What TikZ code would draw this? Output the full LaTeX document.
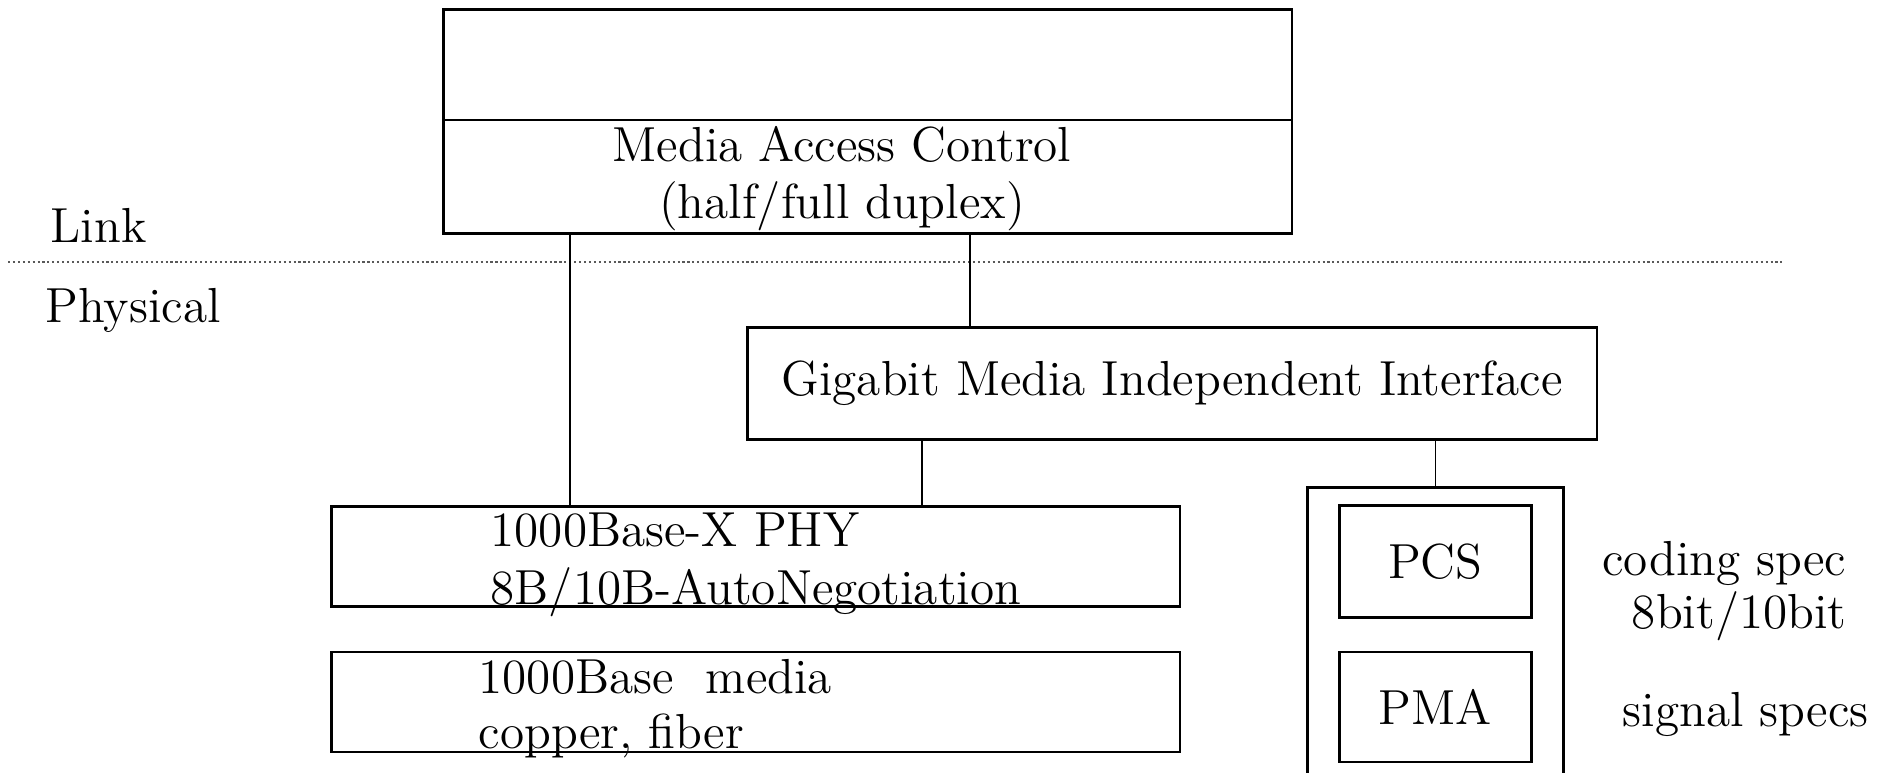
\documentclass[tikz,border=0pt]{standalone}
\usepackage{fontspec}
\usepackage{tikz}
\usetikzlibrary{positioning}
\tikzset{
  LAY/.style={% Style for layer boxes
      rectangle, line width=0.75pt,
      draw=black,
      inner sep=0pt,
      anchor=north west,
      align=center,
      font=\fontsize{14}{16.4}\selectfont,
  },
  TXT/.style={% Style for free text
      inner sep=0pt,
      font=\fontsize{14}{16.4}\selectfont,
  },
  LNK/.style={line width=0.5pt},% connectors between layers
  SEP/.style={% dotted line between link and physical
      line width=0.7pt, draw=black!65,
      dash pattern=on 0.6pt off 0.8pt,
  },
}

\begin{document}
\begin{tikzpicture}[x=0.01cm,y=-0.01cm]
    \useasboundingbox (0,0) rectangle (1885,772);
    % link layer
    \node[LAY, minimum width=8.48cm, minimum height=2.24cm] (mac) at (442,8) {};
    \draw[line width=0.75pt] (mac.west |- 0,120) -- (mac.east |- 0,120);
    \node[TXT, anchor=north, align=center, font=\fontsize{14}{16}\selectfont] (macT) at (842,126) {Media Access Control\\(half/full duplex)};
    \node[TXT, anchor=base west] (link) at (50,242) {Link};
    \node[TXT, anchor=base west] (phys) at (45,322) {Physical};
    \coordinate (sepL) at (8,262);
    \coordinate (sepR) at (1783,262);
    \draw[SEP] (sepL) -- (sepR);
    % physical layer
    \node[LAY, minimum width=8.49cm, minimum height=1.12cm] (gmii) at (746,326) {Gigabit Media Independent Interface};
    \node[LAY, minimum width=8.48cm, minimum height=1.0cm] (phy) at (330,505) {};
    \node[LAY, below=0.43cm of phy, minimum width=8.48cm, minimum height=1.0cm] (media) {};
    \node[TXT, anchor=north west, align=left] (phyT) at (490,512) {1000Base-X PHY\\8B/10B-AutoNegotiation};
    \node[TXT, anchor=north west, align=left, font=\fontsize{14}{15.5}\selectfont] (mediaT) at (478,659) {1000Base~ media\\copper, fiber};
    % PCS / PMA stack, open at the bottom
    \node[LAY, minimum width=2.56cm, minimum height=3.2cm] (pmd) at (1306,486) {};
    \node[LAY, minimum width=1.92cm, minimum height=1.12cm] (pcs) at (1338,504) {PCS};
    \node[LAY, below=0.32cm of pcs, minimum width=1.92cm, minimum height=1.1cm] (pma) {PMA};
    \node[TXT, anchor=north east, align=right, font=\fontsize{14}{15}\selectfont] (codT) at (1847,541) {coding spec\\8bit/10bit};
    \node[TXT, anchor=base west] (sigT) at (1622,726) {signal specs};
    % connectors
    \coordinate (l1) at (570,0);
    \coordinate (l2) at (970,0);
    \coordinate (l3) at (922,0);
    \draw[LNK] (l1 |- mac.south) -- (l1 |- phy.north);
    \draw[LNK] (l2 |- mac.south) -- (l2 |- gmii.north);
    \draw[LNK] (l3 |- gmii.south) -- (l3 |- phy.north);
    \draw[LNK] (pmd.north) -- (pmd.north |- gmii.south);
\end{tikzpicture}
\end{document}
